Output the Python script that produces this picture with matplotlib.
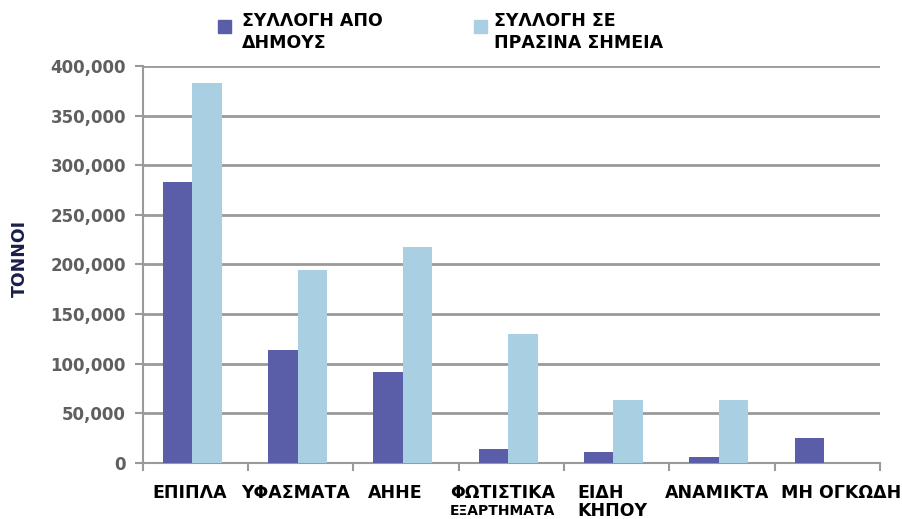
import matplotlib
matplotlib.use("Agg")
import matplotlib.pyplot as plt
import numpy as np
from matplotlib.ticker import FuncFormatter, FixedLocator
from matplotlib.patches import Rectangle

categories = ["ΕΠΙΠΛΑ", "ΥΦΑΣΜΑΤΑ", "ΑΗΗΕ", "ΦΩΤΙΣΤΙΚΑ", "ΕΙΔΗ\nΚΗΠΟΥ", "ΑΝΑΜΙΚΤΑ", "ΜΗ ΟΓΚΩΔΗ"]
sub_label = "ΕΞΑΡΤΗΜΑΤΑ"
municipal = [283000, 114000, 92000, 14000, 11000, 6000, 25000]
green_points = [383000, 194000, 218000, 130000, 63000, 63000, 0]
series_names = ["ΣΥΛΛΟΓΗ ΑΠΟ\nΔΗΜΟΥΣ", "ΣΥΛΛΟΓΗ ΣΕ\nΠΡΑΣΙΝΑ ΣΗΜΕΙΑ"]
yticks = [0, 50000, 100000, 150000, 200000, 250000, 300000, 350000, 400000]

c_dark = "#5A5EA8"
c_light = "#A9CFE3"
grid_c = "#9A9A9A"

fig = plt.figure(figsize=(9.03, 5.19), dpi=100)
ax = fig.add_axes([0.158, 0.108, 0.8165, 0.765])

x = np.arange(len(categories))
w = 0.28
ax.bar(x - w/2 - 0.03, municipal, width=w, color=c_dark, zorder=3)
ax.bar(x + w/2 - 0.03, green_points, width=w, color=c_light, zorder=3)

ax.set_xlim(-0.5, len(categories) - 0.5)
ax.set_ylim(0, 400000)
ax.yaxis.set_major_locator(FixedLocator(yticks))
ax.yaxis.set_major_formatter(FuncFormatter(lambda v, p: f"{int(v):,}"))
ax.grid(axis="y", color=grid_c, linewidth=2, zorder=0)
for s in ["top", "right"]:
    ax.spines[s].set_visible(False)
for s in ["left", "bottom"]:
    ax.spines[s].set_color(grid_c)
    ax.spines[s].set_linewidth(1.5)
ax.tick_params(axis="y", colors=grid_c, length=6, width=1.5, labelcolor="#5f5f5f", labelsize=12, pad=6)
for lab in ax.get_yticklabels():
    lab.set_fontweight("bold")
    lab.set_family("DejaVu Sans")

# category boundary ticks
ax.set_xticks(np.arange(len(categories) + 1) - 0.5)
ax.set_xticklabels([])
ax.tick_params(axis="x", colors=grid_c, length=6, width=1.5)

lab_font = dict(family="DejaVu Sans", fontweight="bold", fontsize=12.5, color="black")
offsets = [-0.05, -0.05, -0.1, -0.08, 0.0, -0.05, 0.13]
for i, (c, off) in enumerate(zip(categories, offsets)):
    if "\n" in c:
        ax.text(i - 0.37, -0.052, c, transform=ax.get_xaxis_transform(), ha="left", va="top",
                linespacing=1.05, **lab_font)
    else:
        ax.text(i + off, -0.052, c, transform=ax.get_xaxis_transform(), ha="center", va="top", **lab_font)
ax.text(3 - 0.08, -0.103, sub_label, transform=ax.get_xaxis_transform(), ha="center", va="top",
        family="DejaVu Sans", fontweight="bold", fontsize=10, color="black")

ax.set_ylabel("ΤΟΝΝΟΙ", fontsize=12.5, fontweight="bold", color="#1a1f4a")
ax.yaxis.set_label_coords(-0.155, 0.514)

# legend
leg_font = dict(family="DejaVu Sans", fontweight="bold", fontsize=12.5, color="black",
                va="top", ha="left", linespacing=1.25)
fig.patches.append(Rectangle((218/903, 1 - 33/519), 13/903, 13/519, transform=fig.transFigure,
                             color=c_dark))
fig.text(242/903, 1 - 12/519, series_names[0], **leg_font)
fig.patches.append(Rectangle((474/903, 1 - 33/519), 13/903, 13/519, transform=fig.transFigure,
                             color=c_light))
fig.text(494/903, 1 - 12/519, series_names[1], **leg_font)

fig.savefig("out.png", dpi=100)
